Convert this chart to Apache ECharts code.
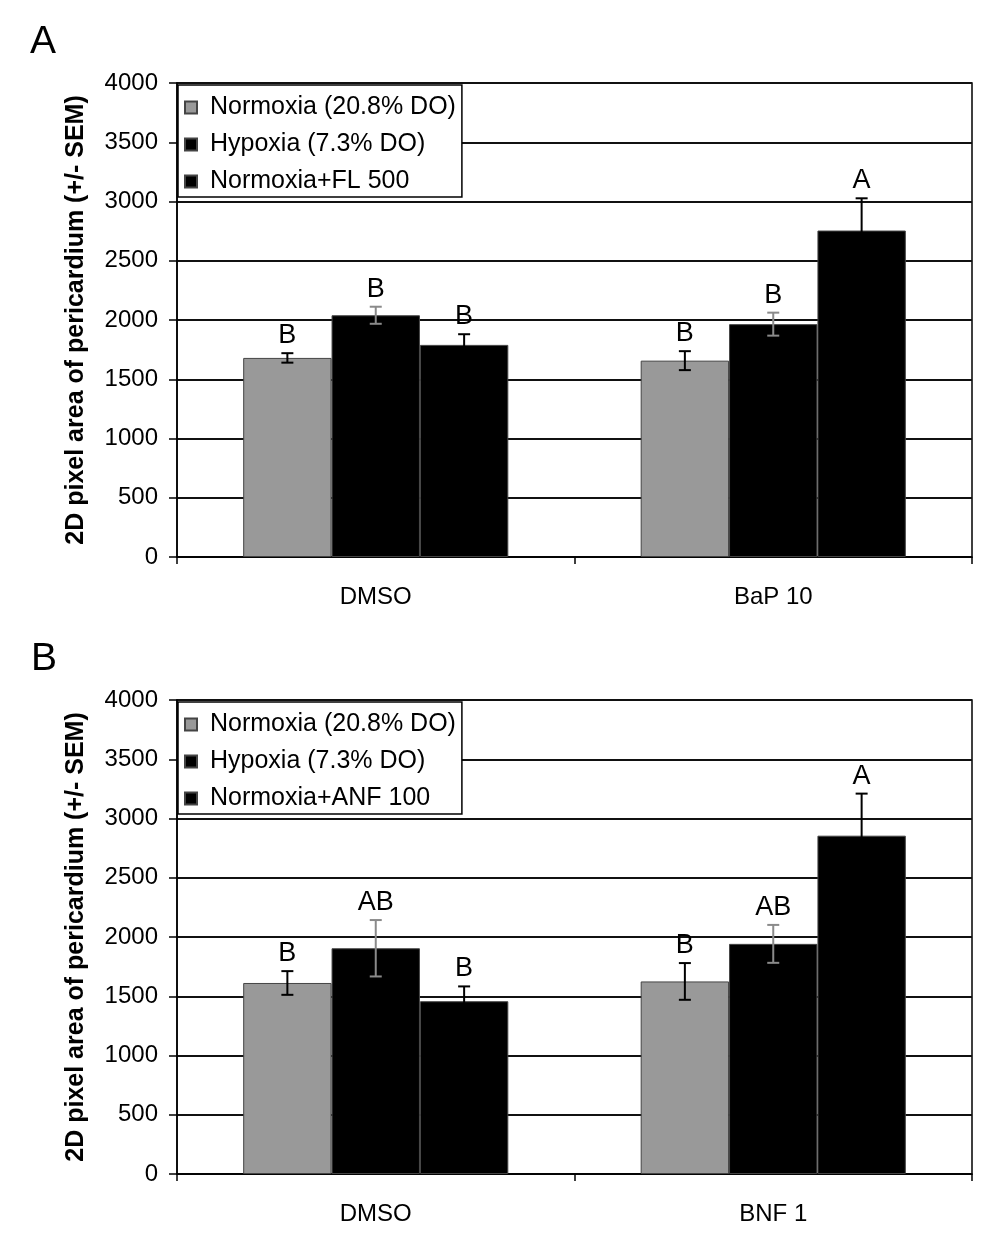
<!DOCTYPE html>
<html><head><meta charset="utf-8">
<script src="https://cdn.jsdelivr.net/npm/echarts@6/dist/echarts.min.js"></script>
<style>html,body{margin:0;padding:0;background:#fff}#c{width:1000px;height:1248px}</style>
</head><body><div id="c"></div>
<script>
// ---- data ----
const categoriesA = ['DMSO', 'BaP 10'];
const categoriesB = ['DMSO', 'BNF 1'];
const namesA = ['Normoxia (20.8% DO)', 'Hypoxia (7.3% DO)', 'Normoxia+FL 500'];
const namesB = ['Normoxia (20.8% DO)', 'Hypoxia (7.3% DO)', 'Normoxia+ANF 100'];
const yTicks = [0, 500, 1000, 1500, 2000, 2500, 3000, 3500, 4000];

const normoxiaA = [1680, 1657];
const normoxiaErrA = [40, 80];
const normoxiaLetA = ['B', 'B'];
const hypoxiaA = [2040, 1965];
const hypoxiaErrA = [72, 97];
const hypoxiaLetA = ['B', 'B'];
const flA = [1790, 2755];
const flErrA = [90, 272];
const flLetA = ['B', 'A'];

const normoxiaB = [1612, 1625];
const normoxiaErrB = [100, 155];
const normoxiaLetB = ['B', 'B'];
const hypoxiaB = [1905, 1942];
const hypoxiaErrB = [238, 160];
const hypoxiaLetB = ['AB', 'AB'];
const anfB = [1458, 2855];
const anfErrB = [125, 355];
const anfLetB = ['B', 'A'];

// ---- styles ----
const FONT = 'Liberation Sans, Arial, sans-serif';
const GAP = 0.333;
const barColors = ['#999999', '#000000', '#000000'];
const errColors = ['#000000', '#8a8a8a', '#000000'];

function barSeries(name, data, idx, axis) {
  return {
    type: 'bar', name: name, data: data,
    xAxisIndex: axis, yAxisIndex: axis,
    barGap: '0%', barCategoryGap: (GAP * 100) + '%',
    itemStyle: { color: barColors[idx], borderColor: '#444', borderWidth: 1 },
    emphasis: { disabled: true }, z: 2
  };
}
function errSeries(means, errs, letters, idx, axis) {
  return {
    type: 'custom', xAxisIndex: axis, yAxisIndex: axis, z: 5, silent: true,
    data: means.map((m, i) => [i, m, errs[i]]),
    encode: { x: 0, y: 1 },
    renderItem: function (params, api) {
      const ci = api.value(0), m = api.value(1), e = api.value(2);
      const c = api.coord([ci, m]);
      const band = api.size([1, 0])[0];
      const bw = band * (1 - GAP) / 3;
      const x = c[0] + (idx - 1) * bw;
      const yt = api.coord([ci, m + e])[1];
      const yb = api.coord([ci, m - e])[1];
      const hw = 6;
      const st = { stroke: errColors[idx], lineWidth: 2 };
      return {
        type: 'group', children: [
          { type: 'line', shape: { x1: x, y1: yt, x2: x, y2: yb }, style: st },
          { type: 'line', shape: { x1: x - hw, y1: yt, x2: x + hw, y2: yt }, style: st },
          { type: 'line', shape: { x1: x - hw, y1: yb, x2: x + hw, y2: yb }, style: st },
          { type: 'text', x: x, y: yt - 4, style: { text: letters[params.dataIndex], fill: '#000',
            font: '27px ' + FONT, textAlign: 'center', textVerticalAlign: 'bottom' } }
        ]
      };
    }
  };
}

const gridsTop = [83, 700];
const plotH = 474;

function xAxis(cats, gi) {
  return {
    type: 'category', data: cats, gridIndex: gi,
    axisLine: { lineStyle: { color: '#000', width: 1.5 } },
    axisTick: { show: true, length: 7, lineStyle: { color: '#000', width: 1.5 } },
    axisLabel: { color: '#000', fontSize: 24, fontFamily: FONT, margin: 28 },
    splitLine: { show: false }
  };
}
function yAxis(gi) {
  return {
    type: 'value', gridIndex: gi, min: 0, max: 4000, interval: 500,
    name: '2D pixel area of pericardium (+/- SEM)', nameLocation: 'middle', nameGap: 88, nameRotate: 90,
    nameMoveOverlap: false,
    nameTextStyle: { color: '#000', fontSize: 25, fontWeight: 'bold', fontFamily: FONT },
    axisLine: { show: true, lineStyle: { color: '#000', width: 1.5 } },
    axisTick: { show: true, length: 8, lineStyle: { color: '#000', width: 1.5 } },
    axisLabel: { color: '#000', fontSize: 24, fontFamily: FONT, margin: 19,
      formatter: v => (yTicks.indexOf(v) >= 0 ? String(v) : '') },
    splitLine: { show: true, lineStyle: { color: '#111', width: 2 } }
  };
}
function legend(names, top) {
  return {
    data: names, orient: 'vertical', left: 178, top: top,
    backgroundColor: '#fff', borderColor: '#000', borderWidth: 1.5,
    padding: [10, 6, 3, 6], itemGap: 12, itemWidth: 12, itemHeight: 12, icon: 'rect',
    textStyle: { color: '#000', fontSize: 25, fontFamily: FONT, padding: [0, 0, 0, 8] },
    selectedMode: false
  };
}

const chart = echarts.init(document.getElementById('c'), null, { renderer: 'canvas' });
chart.setOption({
  backgroundColor: '#fff',
  animation: false,
  grid: gridsTop.map(t => ({ left: 177, right: 28, top: t, height: plotH, show: true,
    borderColor: '#000', borderWidth: 1.5, backgroundColor: 'transparent' })),
  xAxis: [xAxis(categoriesA, 0), xAxis(categoriesB, 1)],
  yAxis: [yAxis(0), yAxis(1)],
  legend: [legend(namesA, 85), legend(namesB, 702)],
  graphic: [
    { type: 'text', left: 30, top: 23, style: { text: 'A', font: '39px ' + FONT, fill: '#000' } },
    { type: 'text', left: 31, top: 640, style: { text: 'B', font: '39px ' + FONT, fill: '#000' } }
  ],
  series: [
    barSeries(namesA[0], normoxiaA, 0, 0),
    barSeries(namesA[1], hypoxiaA, 1, 0),
    barSeries(namesA[2], flA, 2, 0),
    errSeries(normoxiaA, normoxiaErrA, normoxiaLetA, 0, 0),
    errSeries(hypoxiaA, hypoxiaErrA, hypoxiaLetA, 1, 0),
    errSeries(flA, flErrA, flLetA, 2, 0),
    barSeries(namesB[0], normoxiaB, 0, 1),
    barSeries(namesB[1], hypoxiaB, 1, 1),
    barSeries(namesB[2], anfB, 2, 1),
    errSeries(normoxiaB, normoxiaErrB, normoxiaLetB, 0, 1),
    errSeries(hypoxiaB, hypoxiaErrB, hypoxiaLetB, 1, 1),
    errSeries(anfB, anfErrB, anfLetB, 2, 1)
  ]
});
</script></body></html>
